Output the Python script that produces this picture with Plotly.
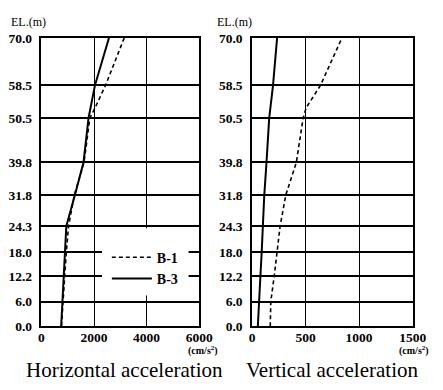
import plotly.graph_objects as go

W, H = 443, 390

# Elevation levels (m)
el_ticks = [0.0, 6.0, 12.2, 18.0, 24.3, 31.8, 39.8, 50.5, 58.5, 70.0]
el_labels = ["0.0", "6.0", "12.2", "18.0", "24.3", "31.8", "39.8", "50.5", "58.5", "70.0"]

# Horizontal acceleration (cm/s^2)
h_b1_el = [0.0, 6.0, 12.2, 18.0, 24.3, 31.8, 39.8, 50.5, 53.0, 58.5, 70.0]
h_b1 = [760, 815, 875, 945, 1030, 1250, 1620, 1840, 2040, 2440, 3150]
h_b3_el = [0.0, 6.0, 12.2, 18.0, 24.3, 31.8, 39.8, 50.5, 58.5, 70.0]
h_b3 = [750, 800, 860, 900, 945, 1270, 1600, 1790, 2036, 2570]

# Vertical acceleration (cm/s^2)
v_b1_el = [0.0, 6.0, 12.2, 18.0, 24.3, 31.8, 39.8, 50.5, 53.0, 58.5, 70.0]
v_b1 = [170, 175, 207, 234, 262, 315, 414, 477, 505, 640, 840]
v_b3_el = [0.0, 6.0, 12.2, 18.0, 24.3, 31.8, 39.8, 50.5, 58.5, 70.0]
v_b3 = [54, 69, 78, 90, 99, 114, 135, 160, 196, 234]

h_ticks = [0, 2000, 4000, 6000]
v_ticks = [0, 500, 1000, 1500]

SERIF = "Liberation Serif"

def px_x(p):
    return p / W

def px_y(p):
    return 1 - p / H

fig = go.Figure()
dash_style = dict(color="black", width=1.6, dash="4px,3px")
solid_style = dict(color="black", width=2)

fig.add_trace(go.Scatter(x=h_b1, y=h_b1_el, mode="lines", line=dash_style,
                         name="B-1", xaxis="x", yaxis="y"))
fig.add_trace(go.Scatter(x=h_b3, y=h_b3_el, mode="lines", line=solid_style,
                         name="B-3", xaxis="x", yaxis="y"))
fig.add_trace(go.Scatter(x=v_b1, y=v_b1_el, mode="lines", line=dash_style,
                         showlegend=False, xaxis="x2", yaxis="y2"))
fig.add_trace(go.Scatter(x=v_b3, y=v_b3_el, mode="lines", line=solid_style,
                         showlegend=False, xaxis="x2", yaxis="y2"))

tickfont = dict(family=SERIF, size=13.5, color="black", weight="bold")
ydom = [px_y(332), px_y(32)]

def xax(dom, rng, ticks, anchor):
    return dict(domain=dom, range=rng, tickvals=ticks, ticktext=[str(t) for t in ticks],
                showgrid=True, gridcolor="black", gridwidth=1,
                showline=True, linecolor="black", linewidth=1.5, mirror=True,
                zeroline=False, ticks="", tickfont=tickfont, anchor=anchor,
                fixedrange=True, ticklabelstandoff=-2)

def yax(anchor):
    return dict(domain=ydom, range=[0, 70], tickvals=el_ticks, ticktext=el_labels,
                showgrid=True, gridcolor="black", gridwidth=2,
                showline=True, linecolor="black", linewidth=1.5, mirror=True,
                zeroline=False, ticks="", tickfont=tickfont, anchor=anchor,
                fixedrange=True, ticklabelstandoff=5)

fig.update_layout(
    width=W, height=H,
    margin=dict(l=0, r=0, t=0, b=0),
    paper_bgcolor="white", plot_bgcolor="white",
    xaxis=xax([px_x(40), px_x(204)], [0, 6000], h_ticks, "y"),
    yaxis=yax("x"),
    xaxis2=xax([px_x(259), px_x(426)], [0, 1500], v_ticks, "y2"),
    yaxis2=yax("x2"),
    showlegend=True,
    legend=dict(x=px_x(108), y=px_y(244), xanchor="left", yanchor="top",
                bgcolor="rgba(0,0,0,0)", font=dict(family=SERIF, size=14, color="black", weight="bold"),
                itemwidth=40, tracegroupgap=0),
    shapes=[dict(type="rect", xref="paper", yref="paper",
                 x0=px_x(103), x1=px_x(193), y0=px_y(300), y1=px_y(230),
                 fillcolor="white", line=dict(width=0), layer="above")],
)

ann = []
for xc in (px_x(6), px_x(220)):
    ann.append(dict(text="EL.(m)", x=xc, y=px_y(16), xref="paper", yref="paper",
                    xanchor="left", yanchor="middle", showarrow=False,
                    font=dict(family=SERIF, size=12, color="black")))
for xc in (px_x(208), px_x(427)):
    ann.append(dict(text="(cm/s<sup>2</sup>)", x=xc, y=px_y(349), xref="paper", yref="paper",
                    xanchor="center", yanchor="top", showarrow=False, borderpad=0,
                    font=dict(family=SERIF, size=10, color="black", weight="bold")))
ann.append(dict(text="Horizontal acceleration", x=px_x(126), y=px_y(377), xref="paper", yref="paper",
                xanchor="center", yanchor="middle", showarrow=False, borderpad=0,
                font=dict(family=SERIF, size=21, color="black")))
ann.append(dict(text="Vertical acceleration", x=px_x(342), y=px_y(377), xref="paper", yref="paper",
                xanchor="center", yanchor="middle", showarrow=False, borderpad=0,
                font=dict(family=SERIF, size=21, color="black")))
fig.update_layout(annotations=ann)

fig.write_html("out.html")
